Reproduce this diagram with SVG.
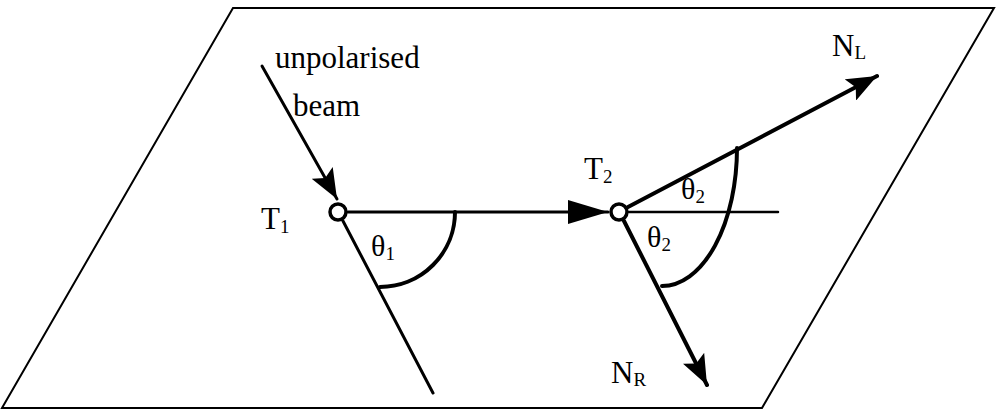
<svg xmlns="http://www.w3.org/2000/svg" width="997" height="412" viewBox="0 0 997 412">
<style>
.t{font-family:"Liberation Serif","Times New Roman",serif;fill:#000}
.ln{stroke:#000;fill:none;stroke-linecap:round}
</style>
<defs>
<marker id="ah" viewBox="0 0 40 24" refX="40" refY="12" markerWidth="40" markerHeight="24" markerUnits="userSpaceOnUse" orient="auto">
<path d="M0,0 L40,12 L0,24 Z" fill="#000"/>
</marker>
<marker id="ahs" viewBox="0 0 30 24" refX="30" refY="12" markerWidth="30" markerHeight="24" markerUnits="userSpaceOnUse" orient="auto">
<path d="M0,0 L30,12 L0,24 L6,12 Z" fill="#000"/>
</marker>
</defs>
<rect width="997" height="412" fill="#fff"/>
<g id="plane">
<path class="ln" stroke-width="2" d="M233,8 L994,8 L762,408 L2,408 Z"/>
</g>
<g id="connectors">
<line class="ln" stroke-width="3" x1="262" y1="66" x2="337" y2="199" marker-end="url(#ahs)"/>
<line class="ln" stroke-width="3" x1="348" y1="212" x2="608" y2="212" marker-end="url(#ah)"/>
<line class="ln" stroke-width="2.5" x1="629" y1="212" x2="778" y2="212"/>
<line class="ln" stroke-width="3" x1="343" y1="221" x2="433" y2="393"/>
<line class="ln" stroke-width="4" x1="628" y1="207" x2="877" y2="76" marker-end="url(#ahs)"/>
<line class="ln" stroke-width="4" x1="624" y1="221" x2="707" y2="385" marker-end="url(#ahs)"/>
<path class="ln" stroke-width="4" d="M455,212 A75,75 0 0 1 380,287"/>
<path class="ln" stroke-width="4" d="M737,148 A75,138 0 0 1 662,286"/>
</g>
<g id="T1">
<circle cx="338" cy="212" r="8" fill="#fff" stroke="#000" stroke-width="3.5"/>
<text class="t" x="261" y="229" font-size="31">T<tspan font-size="19" dy="4">1</tspan></text>
</g>
<g id="T2">
<circle cx="619" cy="212" r="8" fill="#fff" stroke="#000" stroke-width="3.5"/>
<text class="t" x="584" y="179" font-size="31">T<tspan font-size="19" dy="4">2</tspan></text>
</g>
<g id="labels">
<text class="t" x="275" y="68" font-size="31">unpolarised</text>
<text class="t" x="293" y="116" font-size="31">beam</text>
<text class="t" x="371" y="256" font-size="30">θ<tspan font-size="19" dy="4">1</tspan></text>
<text class="t" x="681" y="199" font-size="30">θ<tspan font-size="19" dy="4">2</tspan></text>
<text class="t" x="647" y="247" font-size="30">θ<tspan font-size="19" dy="4">2</tspan></text>
<text class="t" x="832" y="56" font-size="31">N<tspan font-size="19" dy="3">L</tspan></text>
<text class="t" x="611" y="383" font-size="31">N<tspan font-size="19" dy="3">R</tspan></text>
</g>
</svg>
